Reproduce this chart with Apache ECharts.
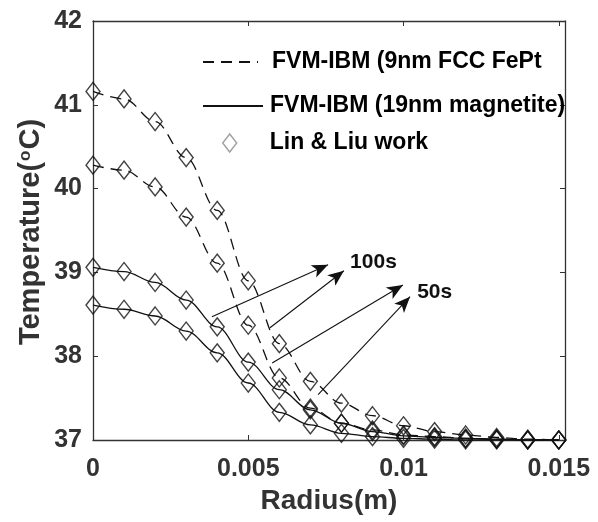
<!DOCTYPE html>
<html>
<head>
<meta charset="utf-8">
<title>Temperature vs Radius</title>
<script src="https://cdn.jsdelivr.net/npm/echarts@6/dist/echarts.min.js"></script>
<style>
  html, body { margin: 0; padding: 0; background: #ffffff; }
  #chart { width: 598px; height: 522px; }
</style>
</head>
<body>
<div id="chart"></div>
<script>
// Radial positions (m) of the sampled points
const radius = [0, 0.001, 0.002, 0.003, 0.004, 0.005, 0.006, 0.007,
                0.008, 0.009, 0.010, 0.011, 0.012, 0.013, 0.014, 0.015];

// Temperature (°C) profiles
const fept100 = [41.16, 41.07, 40.80, 40.37, 39.74, 38.90, 38.15, 37.70,
                 37.44, 37.29, 37.17, 37.10, 37.06, 37.03, 37.01, 37.00];
const fept50  = [40.28, 40.22, 40.02, 39.66, 39.11, 38.37, 37.74, 37.38,
                 37.20, 37.12, 37.06, 37.04, 37.02, 37.01, 37.00, 37.00];
const mag100  = [39.06, 39.01, 38.88, 38.67, 38.35, 37.93, 37.60, 37.36,
                 37.20, 37.10, 37.05, 37.03, 37.02, 37.01, 37.00, 37.00];
const mag50   = [38.61, 38.56, 38.48, 38.30, 38.04, 37.68, 37.33, 37.18,
                 37.08, 37.04, 37.02, 37.01, 37.00, 37.00, 37.00, 37.00];

// Axis ticks
const xTicks = [0, 0.005, 0.01, 0.015];
const yTicks = [37, 38, 39, 40, 41, 42];

const nameFePt = 'FVM-IBM (9nm FCC FePt';
const nameMag = 'FVM-IBM (19nm magnetite)';
const nameLin = 'Lin & Liu work';

const FONT = '"Liberation Sans", Arial, Helvetica, sans-serif';
const INK = '#111';
const AXIS = '#333';
const CLEAR = 'rgba(255,255,255,0)';

const pairs = (ys) => radius.map((r, i) => [r, ys[i]]);

const lineSeries = (name, ys, dashed) => ({
  type: 'line',
  name: name,
  data: pairs(ys),
  smooth: 0.35,
  smoothMonotone: 'x',
  symbol: 'none',
  lineStyle: { color: INK, width: 1.3, type: dashed ? [11, 7] : 'solid' },
  itemStyle: { color: INK },
  z: 2,
  silent: true
});

// Annotation arrows in data coordinates: [start, tip]
const arrows100 = [
  [[0.00383, 38.47], [0.00757, 39.09]],
  [[0.00570, 38.34], [0.00808, 39.02]]
];
const arrows50 = [
  [[0.00577, 37.92], [0.00998, 38.85]],
  [[0.00725, 37.54], [0.01021, 38.71]]
];
const arrowLabels = [
  { text: '100s', at: [0.00828, 39.12] },
  { text: '50s', at: [0.01044, 38.76] }
];

const arrowSeries = {
  type: 'line',
  name: 'arrows',
  data: [],
  silent: true,
  markLine: {
    silent: true,
    symbol: ['none', 'arrow'],
    symbolSize: [10, 16],
    label: { show: false },
    lineStyle: { color: INK, width: 1.1, type: 'solid' },
    emphasis: { disabled: true },
    data: arrows100.concat(arrows50).map(a => [{ coord: a[0] }, { coord: a[1] }])
  },
  markPoint: {
    silent: true,
    symbol: 'circle',
    symbolSize: 0,
    label: {
      show: true,
      position: 'right',
      distance: 0,
      color: INK,
      fontFamily: FONT,
      fontWeight: 'bold',
      fontSize: 21
    },
    data: arrowLabels.map(l => ({ coord: l.at, value: l.text, label: { formatter: l.text } }))
  }
};

const scatterSeries = {
  type: 'scatter',
  name: nameLin,
  data: [].concat(pairs(fept100), pairs(fept50), pairs(mag100), pairs(mag50)),
  symbol: 'diamond',
  symbolSize: [14, 18],
  itemStyle: { color: CLEAR, borderColor: INK, borderWidth: 1.4 },
  z: 3,
  silent: true
};

const diamondIcon = 'path://M7,0 L14,9 L7,18 L0,9 Z';
const legendText = { color: '#000', fontFamily: FONT, fontWeight: 'bold', fontSize: 23, lineHeight: 24 };

const legendAt = (item, left, top, width, height, pad) => ({
  data: [item],
  orient: 'vertical',
  left: left,
  top: top,
  padding: 0,
  itemWidth: width,
  itemHeight: height,
  selectedMode: false,
  textStyle: Object.assign({ padding: [0, 0, 0, pad] }, legendText)
});

// Line-only legend entries: the centre symbol is made invisible
const lineOnly = (name) => ({
  name: name,
  itemStyle: { color: CLEAR, borderColor: CLEAR, borderWidth: 0 }
});

const chart = echarts.init(document.getElementById('chart'), null, { renderer: 'canvas' });

chart.setOption({
  animation: false,
  backgroundColor: '#ffffff',
  grid: { left: 93, top: 21, right: 33, bottom: 82, containLabel: false },
  legend: [
    legendAt(lineOnly(nameFePt), 202, 50, 55, 16, 9),
    legendAt(lineOnly(nameMag), 202, 94, 60, 16, 2),
    legendAt({ name: nameLin, icon: diamondIcon,
               itemStyle: { color: CLEAR, borderColor: '#888', borderWidth: 1.4 } },
             222, 131, 14, 18, 28)
  ],
  xAxis: [
    {
      type: 'value', position: 'bottom', min: 0, max: 0.0152,
      name: 'Radius(m)', nameLocation: 'middle', nameGap: 47,
      nameTextStyle: { color: AXIS, fontFamily: FONT, fontWeight: 'bold', fontSize: 28 },
      axisLine: { show: true, onZero: false, lineStyle: { color: AXIS, width: 1.3 } },
      axisTick: { show: true, inside: true, length: 5, customValues: xTicks, lineStyle: { color: AXIS } },
      axisLabel: { show: true, margin: 17, customValues: xTicks, color: AXIS,
                   fontFamily: FONT, fontWeight: 'bold', fontSize: 25 },
      splitLine: { show: false }
    },
    {
      type: 'value', position: 'top', min: 0, max: 0.0152,
      axisLine: { show: true, onZero: false, lineStyle: { color: AXIS, width: 1.3 } },
      axisTick: { show: true, inside: true, length: 5, customValues: xTicks, lineStyle: { color: AXIS } },
      axisLabel: { show: false },
      splitLine: { show: false }
    }
  ],
  yAxis: [
    {
      type: 'value', position: 'left', min: 37, max: 42,
      axisLine: { show: true, onZero: false, lineStyle: { color: AXIS, width: 1.3 } },
      axisTick: { show: true, inside: true, length: 5, customValues: yTicks, lineStyle: { color: AXIS } },
      axisLabel: { show: true, margin: 11, customValues: yTicks, color: AXIS,
                   fontFamily: FONT, fontWeight: 'bold', fontSize: 25 },
      splitLine: { show: false }
    },
    {
      type: 'value', position: 'right', min: 37, max: 42,
      axisLine: { show: true, onZero: false, lineStyle: { color: AXIS, width: 1.3 } },
      axisTick: { show: true, inside: true, length: 5, customValues: yTicks, lineStyle: { color: AXIS } },
      axisLabel: { show: false },
      splitLine: { show: false }
    }
  ],
  graphic: [
    {
      type: 'text',
      x: 31,
      y: 232,
      rotation: Math.PI / 2,
      silent: true,
      style: {
        text: 'Temperature({sup|o}C)',
        fill: AXIS,
        font: 'bold 29px ' + FONT,
        align: 'center',
        verticalAlign: 'middle',
        rich: {
          sup: { fontSize: 17, fontWeight: 'bold', fontFamily: FONT, fill: AXIS, verticalAlign: 'top', padding: [0, 1, 0, 1] }
        }
      }
    }
  ],
  series: [
    lineSeries(nameFePt, fept100, true),
    lineSeries(nameFePt, fept50, true),
    lineSeries(nameMag, mag100, false),
    lineSeries(nameMag, mag50, false),
    scatterSeries,
    arrowSeries
  ]
});
</script>
</body>
</html>
